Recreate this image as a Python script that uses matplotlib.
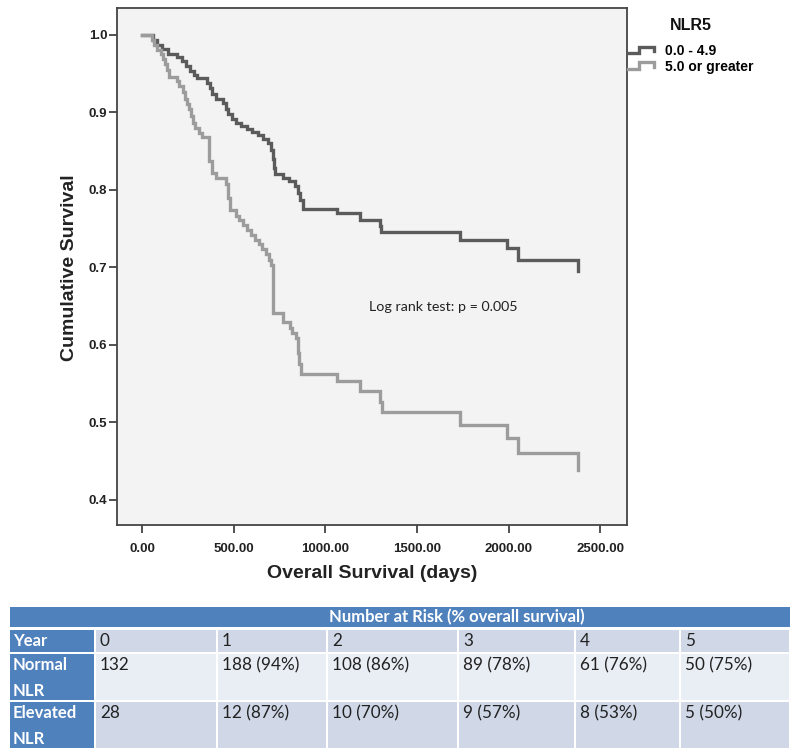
import matplotlib
matplotlib.use("Agg")
import matplotlib.pyplot as plt
from matplotlib.lines import Line2D
from matplotlib.legend_handler import HandlerBase
from matplotlib.patches import Rectangle

# ---------------- data ----------------
normal_days = [0, 60, 80, 110, 140, 190, 215, 240, 260, 280, 300, 355, 370, 380, 400,
               440, 455, 470, 490, 510, 540, 570, 600, 630, 660, 685, 700, 712, 718,
               725, 770, 800, 835, 850, 862, 875, 1061, 1189, 1298, 1305, 1735, 1990,
               2050, 2381]
normal_surv = [1.000, 0.993, 0.987, 0.982, 0.976, 0.972, 0.966, 0.960, 0.953, 0.948,
               0.944, 0.938, 0.931, 0.924, 0.918, 0.912, 0.905, 0.898, 0.891, 0.887,
               0.883, 0.879, 0.875, 0.871, 0.866, 0.860, 0.852, 0.840, 0.828, 0.820,
               0.815, 0.811, 0.805, 0.796, 0.787, 0.776, 0.770, 0.761, 0.754, 0.746,
               0.735, 0.725, 0.710, 0.695]

elevated_days = [0, 55, 65, 80, 100, 115, 125, 135, 145, 190, 200, 225, 232, 245, 255,
                 265, 275, 290, 310, 325, 362, 380, 400, 455, 468, 477, 510, 530, 550,
                 570, 595, 615, 635, 655, 675, 690, 705, 716, 770, 805, 820, 840, 850,
                 855, 865, 1061, 1189, 1298, 1310, 1735, 1990, 2053, 2381]
elevated_surv = [1.000, 0.993, 0.987, 0.981, 0.975, 0.969, 0.962, 0.955, 0.946, 0.940,
                 0.934, 0.927, 0.918, 0.911, 0.904, 0.896, 0.887, 0.880, 0.874, 0.868,
                 0.838, 0.822, 0.815, 0.808, 0.790, 0.774, 0.766, 0.761, 0.755, 0.748,
                 0.742, 0.736, 0.730, 0.724, 0.717, 0.710, 0.703, 0.641, 0.630, 0.622,
                 0.616, 0.609, 0.590, 0.576, 0.563, 0.553, 0.540, 0.527, 0.514, 0.497,
                 0.480, 0.460, 0.439]

group_labels = ["0.0 - 4.9", "5.0 or greater"]
legend_title = "NLR5"
x_ticks = [0, 500, 1000, 1500, 2000, 2500]
y_ticks = [0.4, 0.5, 0.6, 0.7, 0.8, 0.9, 1.0]
x_label = "Overall Survival (days)"
y_label = "Cumulative Survival"
annotation = "Log rank test: p = 0.005"

table_title = "Number at Risk (% overall survival)"
row_labels = ["Year", "Normal\nNLR", "Elevated\nNLR"]
years = ["0", "1", "2", "3", "4", "5"]
normal_at_risk = ["132", "188 (94%)", "108 (86%)", "89 (78%)", "61 (76%)", "50 (75%)"]
elevated_at_risk = ["28", "12 (87%)", "10 (70%)", "9 (57%)", "8 (53%)", "5 (50%)"]

# ---------------- style ----------------
W, H = 800, 754
fig = plt.figure(figsize=(W / 100, H / 100), dpi=100)
fig.patch.set_facecolor("white")

bold_font = ["Liberation Sans", "DejaVu Sans"]
soft_font = ["Lato", "DejaVu Sans"]
dark_col = "#5b5b5b"
light_col = "#9c9c9c"

ax_l, ax_r, ax_t, ax_b = 117, 627, 8, 525
ax = fig.add_axes([ax_l / W, 1 - ax_b / H, (ax_r - ax_l) / W, (ax_b - ax_t) / H])
ax.set_facecolor("#f3f3f3")

ax.step(normal_days, normal_surv, where="post", color=dark_col, lw=2.4,
        label=group_labels[0], solid_joinstyle="miter")
ax.step(elevated_days, elevated_surv, where="post", color=light_col, lw=2.4,
        label=group_labels[1], solid_joinstyle="miter")

ax.set_xlim(-138, 2646)
ax.set_ylim(0.3677, 1.0348)
ax.set_xticks(x_ticks)
ax.set_xticklabels([f"{v:.2f}" for v in x_ticks])
ax.set_yticks(y_ticks)
ax.set_yticklabels([f"{v:.1f}" for v in y_ticks])
for lab in ax.get_xticklabels() + ax.get_yticklabels():
    lab.set_family(bold_font)
    lab.set_fontweight("bold")
    lab.set_fontsize(9.5)
ax.tick_params(axis="y", direction="out", length=6, width=1.2, pad=1, colors="#333333")
ax.tick_params(axis="x", direction="out", length=6, width=1.2, pad=7, colors="#333333")
for lab in ax.get_xticklabels() + ax.get_yticklabels():
    lab.set_color("#222222")
for s in ax.spines.values():
    s.set_color("#444444")
    s.set_linewidth(1.3)

ax.set_xlabel(x_label, family=bold_font, fontweight="bold", fontsize=14, color="#222222")
ax.xaxis.set_label_coords((372 - ax_l) / (ax_r - ax_l), -(565 - ax_b) / (ax_b - ax_t),
                          transform=ax.transAxes)
ax.set_ylabel(y_label, family=bold_font, fontweight="bold", fontsize=14, color="#222222")
ax.yaxis.set_label_coords(-(ax_l - 78) / (ax_r - ax_l), (ax_b - 268) / (ax_b - ax_t),
                          transform=ax.transAxes)

ax.text(1240, 0.649, annotation, family=soft_font, fontsize=10.3, color="#222222",
        ha="left", va="center")


class StepHandler(HandlerBase):
    def create_artists(self, legend, orig_handle, xdescent, ydescent, width, height,
                       fontsize, trans):
        xs = [0, 0.42 * width, 0.42 * width, width, width]
        ys = [0.2 * height, 0.2 * height, 0.85 * height, 0.85 * height, 0.4 * height]
        xs = [x - xdescent for x in xs]
        ys = [y - ydescent for y in ys]
        line = Line2D(xs, ys, color=orig_handle.get_color(), lw=orig_handle.get_linewidth(),
                      solid_joinstyle="miter")
        line.set_transform(trans)
        return [line]


handles, labels = ax.get_legend_handles_labels()
leg = fig.legend(handles, labels, loc="upper left", bbox_to_anchor=(628 / W, 1 - 44 / H),
                 frameon=False, borderpad=0, borderaxespad=0, handlelength=1.9,
                 handletextpad=0.75, labelspacing=0.12,
                 handler_map={Line2D: StepHandler()},
                 prop={"family": bold_font, "weight": "bold", "size": 10})
fig.text(670 / W, 1 - 26 / H, legend_title, family=bold_font, fontweight="bold",
         fontsize=11.5, ha="left", va="center", color="#111111")

# ---------------- number-at-risk table ----------------
tax = fig.add_axes([0, 0, 1, 1])
tax.set_xlim(0, W)
tax.set_ylim(H, 0)
tax.axis("off")

blue = "#4f81bd"
row_dark = "#d0d8e8"
row_light = "#e9edf4"
col_edges = [10, 95, 217, 327, 458, 575, 680, 790]
row_edges = [(630, 652), (654, 700), (702, 748)]
row_colors = [row_dark, row_light, row_dark]
gap = 1.0

tax.add_patch(Rectangle((col_edges[0], 607), col_edges[-1] - col_edges[0], 20,
                        facecolor=blue, edgecolor="none"))
tax.text(457, 617, table_title, family=soft_font, fontweight="bold", fontsize=12,
         color="white", ha="center", va="center")

table_rows = [years, normal_at_risk, elevated_at_risk]
for r, ((y0, y1), label, values, rc) in enumerate(zip(row_edges, row_labels, table_rows, row_colors)):
    tax.add_patch(Rectangle((col_edges[0], y0), col_edges[1] - col_edges[0] - gap, y1 - y0,
                            facecolor=blue, edgecolor="none"))
    tax.text(col_edges[0] + 3, y0 + 3, label, family=soft_font, fontweight="bold",
             fontsize=12, color="white", ha="left", va="top", linespacing=1.75)
    for c, val in enumerate(values):
        xl = col_edges[c + 1] + gap
        xr = col_edges[c + 2] - gap
        tax.add_patch(Rectangle((xl, y0), xr - xl, y1 - y0, facecolor=rc, edgecolor="none"))
        tax.text(xl + 4, y0 + 3, val, family=soft_font, fontsize=12.3, color="#222222",
                 ha="left", va="top")

fig.savefig("out.png", dpi=100, facecolor="white")
